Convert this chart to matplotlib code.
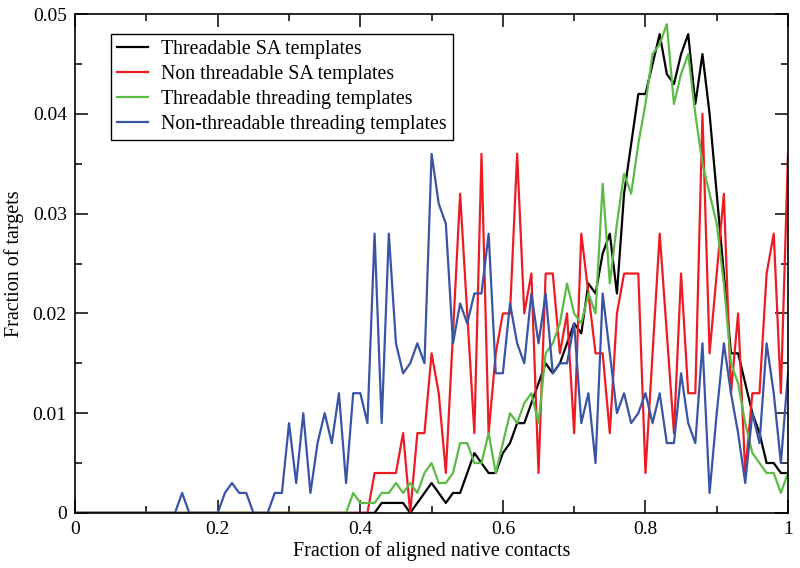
import numpy as np
import matplotlib
matplotlib.use("Agg")
import matplotlib.pyplot as plt
from matplotlib.ticker import MultipleLocator

plt.rcParams['font.family'] = ['Liberation Serif', 'DejaVu Serif']

# fraction of aligned native contacts, 0.00 .. 1.00 in steps of 0.01
frac = np.round(np.arange(0, 101) * 0.01, 2)

# Threadable SA templates
sa_thread = [0.0] * 43 + [
    0.001, 0.001, 0.001, 0.001, 0.0, 0.001, 0.002, 0.003, 0.002, 0.001,      # 0.43-0.52
    0.002, 0.002, 0.004, 0.006, 0.005, 0.004, 0.004, 0.006, 0.007, 0.009,    # 0.53-0.62
    0.009, 0.011, 0.013, 0.015, 0.014, 0.015, 0.017, 0.019, 0.018, 0.023,    # 0.63-0.72
    0.022, 0.026, 0.028, 0.022, 0.032, 0.037, 0.042, 0.042, 0.045, 0.048,    # 0.73-0.82
    0.044, 0.043, 0.046, 0.048, 0.041, 0.046, 0.040, 0.032, 0.024, 0.016,    # 0.83-0.92
    0.016, 0.013, 0.010, 0.008, 0.005, 0.005, 0.004, 0.004]                  # 0.93-1.00

# Non threadable SA templates
sa_nonthread = [0.0] * 42 + [
    0.004, 0.004, 0.004, 0.004, 0.008, 0.0, 0.008, 0.008, 0.016, 0.012,      # 0.42-0.51
    0.004, 0.018, 0.032, 0.020, 0.008, 0.036, 0.008, 0.016, 0.020, 0.020,    # 0.52-0.61
    0.036, 0.020, 0.024, 0.004, 0.024, 0.024, 0.016, 0.020, 0.008, 0.028,    # 0.62-0.71
    0.022, 0.016, 0.016, 0.008, 0.020, 0.024, 0.024, 0.024, 0.004, 0.016,    # 0.72-0.81
    0.028, 0.018, 0.008, 0.024, 0.012, 0.012, 0.040, 0.016, 0.024, 0.032,    # 0.82-0.91
    0.012, 0.020, 0.004, 0.012, 0.012, 0.024, 0.028, 0.012, 0.036]           # 0.92-1.00

# Threadable threading templates
th_thread = [0.0] * 39 + [
    0.002, 0.001, 0.001, 0.001, 0.002, 0.002, 0.003, 0.002, 0.003, 0.002,    # 0.39-0.48
    0.004, 0.005, 0.003, 0.003, 0.004, 0.007, 0.007, 0.005, 0.005, 0.008,    # 0.49-0.58
    0.004, 0.007, 0.010, 0.009, 0.011, 0.012, 0.009, 0.016, 0.017, 0.019,    # 0.59-0.68
    0.023, 0.020, 0.019, 0.022, 0.020, 0.033, 0.023, 0.029, 0.034, 0.032,    # 0.69-0.78
    0.037, 0.041, 0.046, 0.047, 0.049, 0.041, 0.044, 0.046, 0.040, 0.035,    # 0.79-0.88
    0.032, 0.029, 0.023, 0.015, 0.013, 0.009, 0.006, 0.005, 0.004, 0.004,    # 0.89-0.98
    0.002, 0.004]                                                            # 0.99-1.00

# Non-threadable threading templates
th_nonthread = [0.0] * 15 + [0.002, 0.0, 0.0, 0.0, 0.0, 0.0] + [
    0.002, 0.003, 0.002, 0.002, 0.0, 0.0, 0.0, 0.002, 0.002, 0.009,          # 0.21-0.30
    0.003, 0.010, 0.002, 0.007, 0.010, 0.007, 0.012, 0.003, 0.012, 0.012,    # 0.31-0.40
    0.009, 0.028, 0.009, 0.028, 0.017, 0.014, 0.015, 0.017, 0.015, 0.036,    # 0.41-0.50
    0.031, 0.029, 0.017, 0.021, 0.019, 0.022, 0.022, 0.028, 0.014, 0.014,    # 0.51-0.60
    0.021, 0.017, 0.015, 0.022, 0.017, 0.022, 0.014, 0.015, 0.015, 0.019,    # 0.61-0.70
    0.009, 0.012, 0.005, 0.022, 0.016, 0.010, 0.012, 0.009, 0.010, 0.012,    # 0.71-0.80
    0.009, 0.012, 0.007, 0.007, 0.014, 0.009, 0.007, 0.017, 0.002, 0.010,    # 0.81-0.90
    0.017, 0.012, 0.008, 0.003, 0.010, 0.007, 0.017, 0.012, 0.005, 0.014]    # 0.91-1.00

labels = ['Threadable SA templates', 'Non threadable SA templates',
          'Threadable threading templates', 'Non-threadable threading templates']
colors = ['#000000', '#ec1c24', '#5cbb46', '#3a54a5']
xticklabels = ['0', '0.2', '0.4', '0.6', '0.8', '1']
yticklabels = ['0', '0.01', '0.02', '0.03', '0.04', '0.05']

fig = plt.figure(figsize=(8, 5.68), dpi=100)
ax = fig.add_axes([0.094, 0.097, 0.891, 0.878])

for ys, lab, c in zip([sa_thread, sa_nonthread, th_thread, th_nonthread], labels, colors):
    ax.plot(frac, ys, color=c, linewidth=1.6, label=lab)

ax.set_xlim(0, 1)
ax.set_ylim(0, 0.05)
ax.set_xticks(np.arange(0, 1.01, 0.2))
ax.set_xticklabels(xticklabels)
ax.set_yticks(np.arange(0, 0.0501, 0.01))
ax.set_yticklabels(yticklabels)
ax.xaxis.set_minor_locator(MultipleLocator(0.1))
ax.yaxis.set_minor_locator(MultipleLocator(0.005))
ax.tick_params(which='both', direction='in', top=True, right=True, width=1.1, labelsize=14)
ax.tick_params(which='major', length=9.5, pad=6)
ax.tick_params(which='minor', length=5)
for s in ax.spines.values():
    s.set_linewidth(1.2)

ax.set_xlabel('Fraction of aligned native contacts', fontsize=14.5, labelpad=2)
ax.set_ylabel('Fraction of targets', fontsize=14.5, labelpad=6)

leg = ax.legend(loc='upper left', bbox_to_anchor=(0.05, 0.96), fontsize=14.3,
                fancybox=False, framealpha=1, edgecolor='black',
                handlelength=1.55, handletextpad=0.7, borderpad=0.3,
                labelspacing=0.3, borderaxespad=0)
leg.get_frame().set_linewidth(1.0)

fig.savefig('out.png', dpi=100)
